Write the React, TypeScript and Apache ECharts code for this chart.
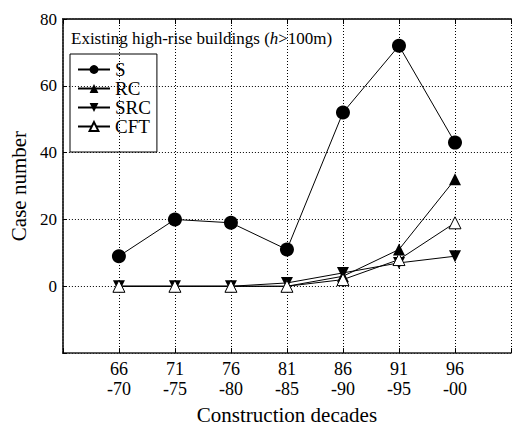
import React, { useEffect, useRef } from "react";
import * as echarts from "echarts";

// Construction periods (two-line labels) and case counts per structural type
const decades = ["66\n-70", "71\n-75", "76\n-80", "81\n-85", "86\n-90", "91\n-95", "96\n-00"];
const steelS = [9, 20, 19, 11, 52, 72, 43];
const concreteRC = [0, 0, 0, 0, 3, 11, 32];
const compositeSRC = [0, 0, 0, 1, 4, 7, 9];
const tubeCFT = [0, 0, 0, 0, 2, 8, 19];
const yTickValues = [0, 20, 40, 60, 80];

const FONT = "Liberation Serif";

const toPoints = (vals: number[]) => vals.map((v, i) => [i, v]);

export default function App() {
  const ref = useRef<HTMLDivElement>(null);

  useEffect(() => {
    if (!ref.current) return;
    const chart = echarts.init(ref.current, undefined, { renderer: "svg" });

    const dotted = { color: "#000", width: 1, type: [1, 2] };
    const frame = { color: "#333", width: 2, type: [2, 1] };
    const line = { color: "#000", width: 1 };

    chart.setOption({
      animation: false,
      backgroundColor: "#fff",
      textStyle: { fontFamily: FONT },
      title: {
        text: "Existing high-rise buildings ({i|h}>100m)",
        left: 71,
        top: 30,
        padding: 0,
        textStyle: {
          fontFamily: FONT,
          fontSize: 17,
          fontWeight: "normal",
          color: "#000",
          rich: { i: { fontFamily: FONT, fontSize: 17, fontStyle: "italic", color: "#000" } },
        },
      },
      legend: {
        orient: "vertical",
        left: 70,
        top: 54,
        padding: [6, 6, 16, 7],
        borderColor: "#000",
        borderWidth: 1,
        itemWidth: 32,
        itemHeight: 11,
        itemGap: 0,
        textStyle: { fontFamily: FONT, fontSize: 19, color: "#000", lineHeight: 19 },
        data: ["S", "RC", "SRC", "CFT"],
      },
      grid: { left: 61, top: 19, width: 462, height: 345, containLabel: false },
      xAxis: [
        {
          type: "value",
          position: "bottom",
          min: -1,
          max: 7,
          interval: 1,
          name: "Construction decades",
          nameLocation: "middle",
          nameGap: 46,
          nameTextStyle: { fontFamily: FONT, fontSize: 21, color: "#000" },
          axisLine: { show: true, onZero: false, lineStyle: { color: "#222", width: 1.5 } },
          axisTick: { show: true, inside: true, length: 5, lineStyle: { color: "#000" } },
          axisLabel: {
            fontFamily: FONT,
            fontSize: 18,
            color: "#000",
            lineHeight: 20,
            margin: 6,
            formatter: (v: number) => decades[v] ?? "",
          },
          splitLine: { show: true, lineStyle: dotted },
        },
        {
          type: "value",
          position: "top",
          min: -1,
          max: 7,
          interval: 1,
          axisLine: { show: true, onZero: false, lineStyle: frame },
          axisTick: { show: true, inside: true, length: 5, lineStyle: { color: "#000" } },
          axisLabel: { show: false },
          splitLine: { show: false },
        },
      ],
      yAxis: {
        type: "value",
        min: -20,
        max: 80,
        interval: 20,
        name: "Case number",
        nameLocation: "middle",
        nameGap: 27,
        nameTextStyle: { fontFamily: FONT, fontSize: 21, color: "#000" },
        axisLine: { show: true, onZero: false, lineStyle: frame },
        axisTick: { show: true, inside: true, length: 4, lineStyle: { color: "#000" } },
        axisLabel: {
          fontFamily: FONT,
          fontSize: 17,
          color: "#000",
          margin: 6,
          formatter: (v: number) => (yTickValues.includes(v) ? String(v) : ""),
        },
        splitLine: { show: true, lineStyle: dotted },
      },
      series: [
        {
          name: "S",
          type: "line",
          data: toPoints(steelS),
          symbol: "circle",
          symbolSize: 14,
          lineStyle: line,
          itemStyle: { color: "#000" },
        },
        {
          name: "RC",
          type: "line",
          data: toPoints(concreteRC),
          symbol: "triangle",
          symbolSize: 12,
          lineStyle: line,
          itemStyle: { color: "#000" },
        },
        {
          name: "SRC",
          type: "line",
          data: toPoints(compositeSRC),
          symbol: "triangle",
          symbolRotate: 180,
          symbolSize: 12,
          lineStyle: line,
          itemStyle: { color: "#000" },
        },
        {
          name: "CFT",
          type: "line",
          data: toPoints(tubeCFT),
          symbol: "triangle",
          symbolSize: 12,
          lineStyle: line,
          itemStyle: { color: "#fff", borderColor: "#000", borderWidth: 1 },
        },
      ],
    });

    return () => chart.dispose();
  }, []);

  return (
    <div
      ref={ref}
      style={{ position: "fixed", left: 0, top: 0, width: 514, height: 430, background: "#fff" }}
    />
  );
}
